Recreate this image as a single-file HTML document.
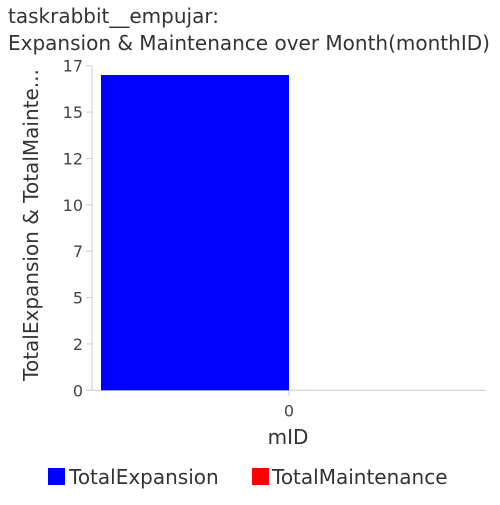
<!DOCTYPE html>
<html><head><meta charset="utf-8"><style>
body{margin:0;background:#fff;font-family:"Liberation Sans","DejaVu Sans",sans-serif;}
svg text{font-family:"DejaVu Sans","Liberation Sans",sans-serif;}
</style></head><body>
<svg id="chart" width="500" height="500" viewBox="0 0 500 500">
<text x="8" y="23" font-size="20" fill="#333">taskrabbit__empujar:</text>
<text x="8" y="50" font-size="20" fill="#333">Expansion &amp; Maintenance over Month(monthID)</text>
<g id="yaxis"></g>
<g id="xaxis"></g>
<g id="bars"></g>
<text transform="translate(38,225) rotate(-90)" text-anchor="middle" font-size="20" fill="#333">TotalExpansion &amp; TotalMainte...</text>
<text x="288" y="444" text-anchor="middle" font-size="20" fill="#333">mID</text>
<g>
<rect x="48" y="468" width="17" height="17" fill="#0000ff"></rect>
<text x="69" y="484" font-size="20" fill="#333">TotalExpansion</text>
<rect x="252" y="468" width="17" height="17" fill="#ff0000"></rect>
<text x="272" y="484" font-size="20" fill="#333">TotalMaintenance</text>
</g>
</svg>
<script>
const categories = ["0"];
const expansionValues = [17];
const maintenanceValues = [0];
const yTickValues = [0, 2.5, 5, 7.5, 10, 12.5, 15, 17.5];
const yTickLabels = ["0","2","5","7","10","12","15","17"];
const NS = "http://www.w3.org/2000/svg";
const L = 92, R = 486, T = 65.7, B = 390.3, YMAX = 17.5;
const y = v => B - (v / YMAX) * (B - T);
const bandW = (R - L) / categories.length;
const x = i => L + bandW * i;
function mk(tag, attrs, parent){const e=document.createElementNS(NS,tag);for(const k in attrs)e.setAttribute(k,attrs[k]);parent.appendChild(e);return e;}
const ya = document.getElementById('yaxis'), xa = document.getElementById('xaxis'), bars = document.getElementById('bars');
mk('line',{x1:L,y1:T,x2:L,y2:B,stroke:'#ccc','stroke-width':1},ya);
yTickValues.forEach((v,i)=>{
  const t = mk('line',{x1:L-6,y1:y(v),x2:L,y2:y(v),stroke:'#ccc'},ya);
  
  
  const tx = mk('text',{x:L-9,y:y(v)+6,'text-anchor':'end','font-size':16,fill:'#444'},ya);
  
  
  tx.textContent = yTickLabels[i];
});
mk('line',{x1:L-6,y1:B,x2:R,y2:B,stroke:'#ccc'},xa);
categories.forEach((c,i)=>{
  const cx = x(i) + bandW/2;
  const t = mk('line',{x1:cx,y1:B,x2:cx,y2:B+6,stroke:'#ccc'},xa);
  
  
  const tx = mk('text',{x:cx,y:B+26,'text-anchor':'middle','font-size':16,fill:'#444'},xa);
  
  
  tx.textContent = c;
  const pad = 9, bw = (bandW - 2*pad)/2;
  const r1 = mk('rect',{x:x(i)+pad,y:y(expansionValues[i]),width:bw,height:B-y(expansionValues[i]),fill:'#0000ff'},bars);
  
  
  const r2 = mk('rect',{x:x(i)+pad+bw,y:y(maintenanceValues[i]),width:bw,height:B-y(maintenanceValues[i]),fill:'#ff0000'},bars);
  
  
});
</script>
</body></html>
